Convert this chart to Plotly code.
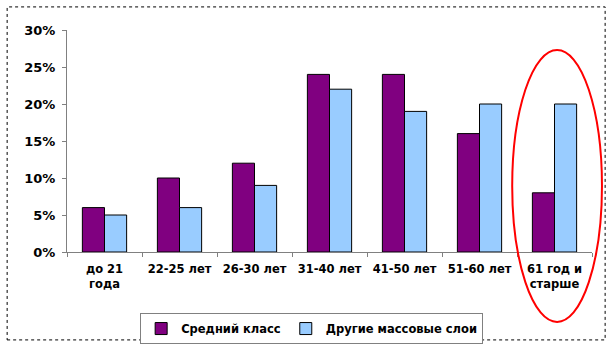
import plotly.graph_objects as go

categories = ["до 21<br>года", "22-25 лет", "26-30 лет", "31-40 лет", "41-50 лет", "51-60 лет", "61 год и<br>старше"]
middle_class = [0.06, 0.10, 0.12, 0.24, 0.24, 0.16, 0.08]
other_mass = [0.05, 0.06, 0.09, 0.22, 0.19, 0.20, 0.20]
y_ticks = [0, 0.05, 0.10, 0.15, 0.20, 0.25, 0.30]
y_tick_text = ["0%", "5%", "10%", "15%", "20%", "25%", "30%"]

FONT = "DejaVu Sans, Arial, sans-serif"

fig = go.Figure()
fig.add_trace(go.Bar(x=categories, y=middle_class, name="Средний класс",
                     marker=dict(color="#800080", line=dict(color="#000000", width=1))))
fig.add_trace(go.Bar(x=categories, y=other_mass, name="Другие массовые слои",
                     marker=dict(color="#99CCFF", line=dict(color="#000000", width=1))))

fig.update_layout(
    width=612, height=349,
    margin=dict(l=67, r=20, t=30, b=97, autoexpand=False),
    paper_bgcolor="white", plot_bgcolor="white",
    barmode="group", bargap=0.41, bargroupgap=0,
    font=dict(family=FONT, size=12, color="#000000"),
    showlegend=True,
    legend=dict(orientation="h", x=0.466, xanchor="center", y=-0.275, yanchor="top",
                bordercolor="#808080", borderwidth=1, bgcolor="white",
                font=dict(family=FONT, size=11.5, color="#000000", weight="bold"),
                itemwidth=30, tracegroupgap=0),
    xaxis=dict(showline=True, linecolor="#808080", linewidth=1, ticks="outside",
               tickson="boundaries", ticklen=4, tickcolor="#808080", automargin=False,
               tickangle=0, ticklabelstandoff=6,
               tickfont=dict(family=FONT, size=11.5, color="#000000", weight="bold"),
               showgrid=False),
    yaxis=dict(range=[0, 0.30], tickvals=y_ticks, ticktext=y_tick_text, automargin=False,
               showline=True, linecolor="#808080", linewidth=1, ticks="outside",
               ticklen=4, tickcolor="#808080", showgrid=False, zeroline=False,
               ticklabelstandoff=4,
               tickfont=dict(family=FONT, size=13, color="#000000", weight="bold")),
    shapes=[
        dict(type="rect", xref="paper", yref="paper", x0=-0.114, x1=1.025, y0=-0.396, y1=1.104,
             line=dict(color="#000000", width=1, dash="dot")),
        dict(type="circle", xref="paper", yref="paper", x0=0.848, x1=1.019, y0=-0.315, y1=0.91,
             line=dict(color="#FF0000", width=2)),
    ],
)

fig.write_html("out.html")
